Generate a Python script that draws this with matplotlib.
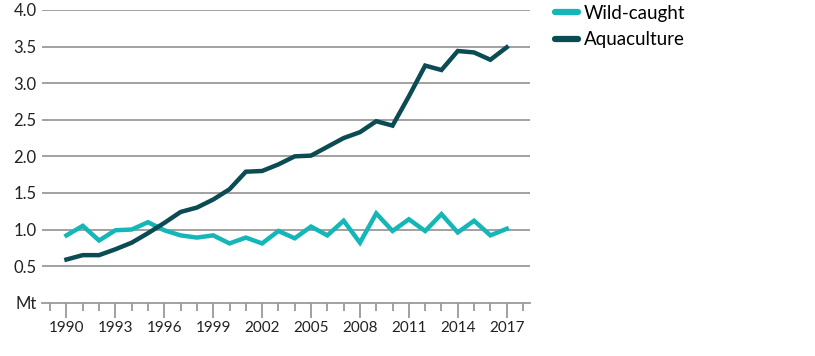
import matplotlib
matplotlib.use("Agg")
import matplotlib.pyplot as plt
from matplotlib.ticker import MultipleLocator

plt.rcParams['font.family'] = ['Lato', 'DejaVu Sans']

years = list(range(1990, 2018))
wild_caught = [0.92, 1.05, 0.85, 0.99, 1.00, 1.10, 0.99, 0.92, 0.89, 0.92,
               0.81, 0.89, 0.81, 0.98, 0.88, 1.04, 0.92, 1.12, 0.82, 1.22,
               0.98, 1.14, 0.98, 1.21, 0.96, 1.12, 0.92, 1.01]
aquaculture = [0.59, 0.65, 0.65, 0.73, 0.82, 0.95, 1.09, 1.24, 1.30, 1.41,
               1.55, 1.79, 1.80, 1.89, 2.00, 2.01, 2.13, 2.25, 2.33, 2.48,
               2.42, 2.82, 3.24, 3.18, 3.44, 3.42, 3.32, 3.49]
y_ticks = [0.5, 1.0, 1.5, 2.0, 2.5, 3.0, 3.5, 4.0]
x_labels = list(range(1990, 2018, 3))

wild_col = '#14b6b8'
aqua_col = '#0b4b54'
grid_col = '#9a9a9a'

fig = plt.figure(figsize=(8.15, 3.56), dpi=100)
ax = fig.add_axes([42/815, 1 - 302.7/356, (530 - 42)/815, (302.7 - 10)/356])

for v in y_ticks:
    ax.axhline(v, color=grid_col, lw=1.3, zorder=1)

ax.plot(years, wild_caught, color=wild_col, lw=3.2, solid_joinstyle='miter',
        label='Wild-caught', zorder=3)
ax.plot(years, aquaculture, color=aqua_col, lw=3.2, solid_joinstyle='miter',
        label='Aquaculture', zorder=3)

ax.set_xlim(1988.5, 2018.43)
ax.set_ylim(0, 4.0)

for s in ['top', 'right', 'left']:
    ax.spines[s].set_visible(False)
ax.spines['bottom'].set_color(grid_col)
ax.spines['bottom'].set_linewidth(1.3)

ax.set_yticks([0] + y_ticks)
ax.set_yticklabels(['Mt'] + ['%.1f' % v for v in y_ticks], fontsize=12, color='#222222')
ax.tick_params(axis='y', length=0, pad=4)

ax.set_xticks(x_labels)
ax.set_xticklabels([str(x) for x in x_labels], fontsize=11, color='#222222')
ax.xaxis.set_minor_locator(MultipleLocator(1))
ax.tick_params(axis='x', which='major', length=11, width=1.3, color=grid_col, pad=2)
ax.tick_params(axis='x', which='minor', length=6, width=1.3, color=grid_col)

leg = ax.legend(loc='upper left', bbox_to_anchor=(1.035, 1.043), frameon=False,
                fontsize=13.5, handlelength=1.25, handletextpad=0.3, labelspacing=0.5,
                borderaxespad=0)
for h in leg.get_lines():
    h.set_linewidth(4.5)
    h.set_solid_capstyle('round')

fig.savefig('out.png', dpi=100)
